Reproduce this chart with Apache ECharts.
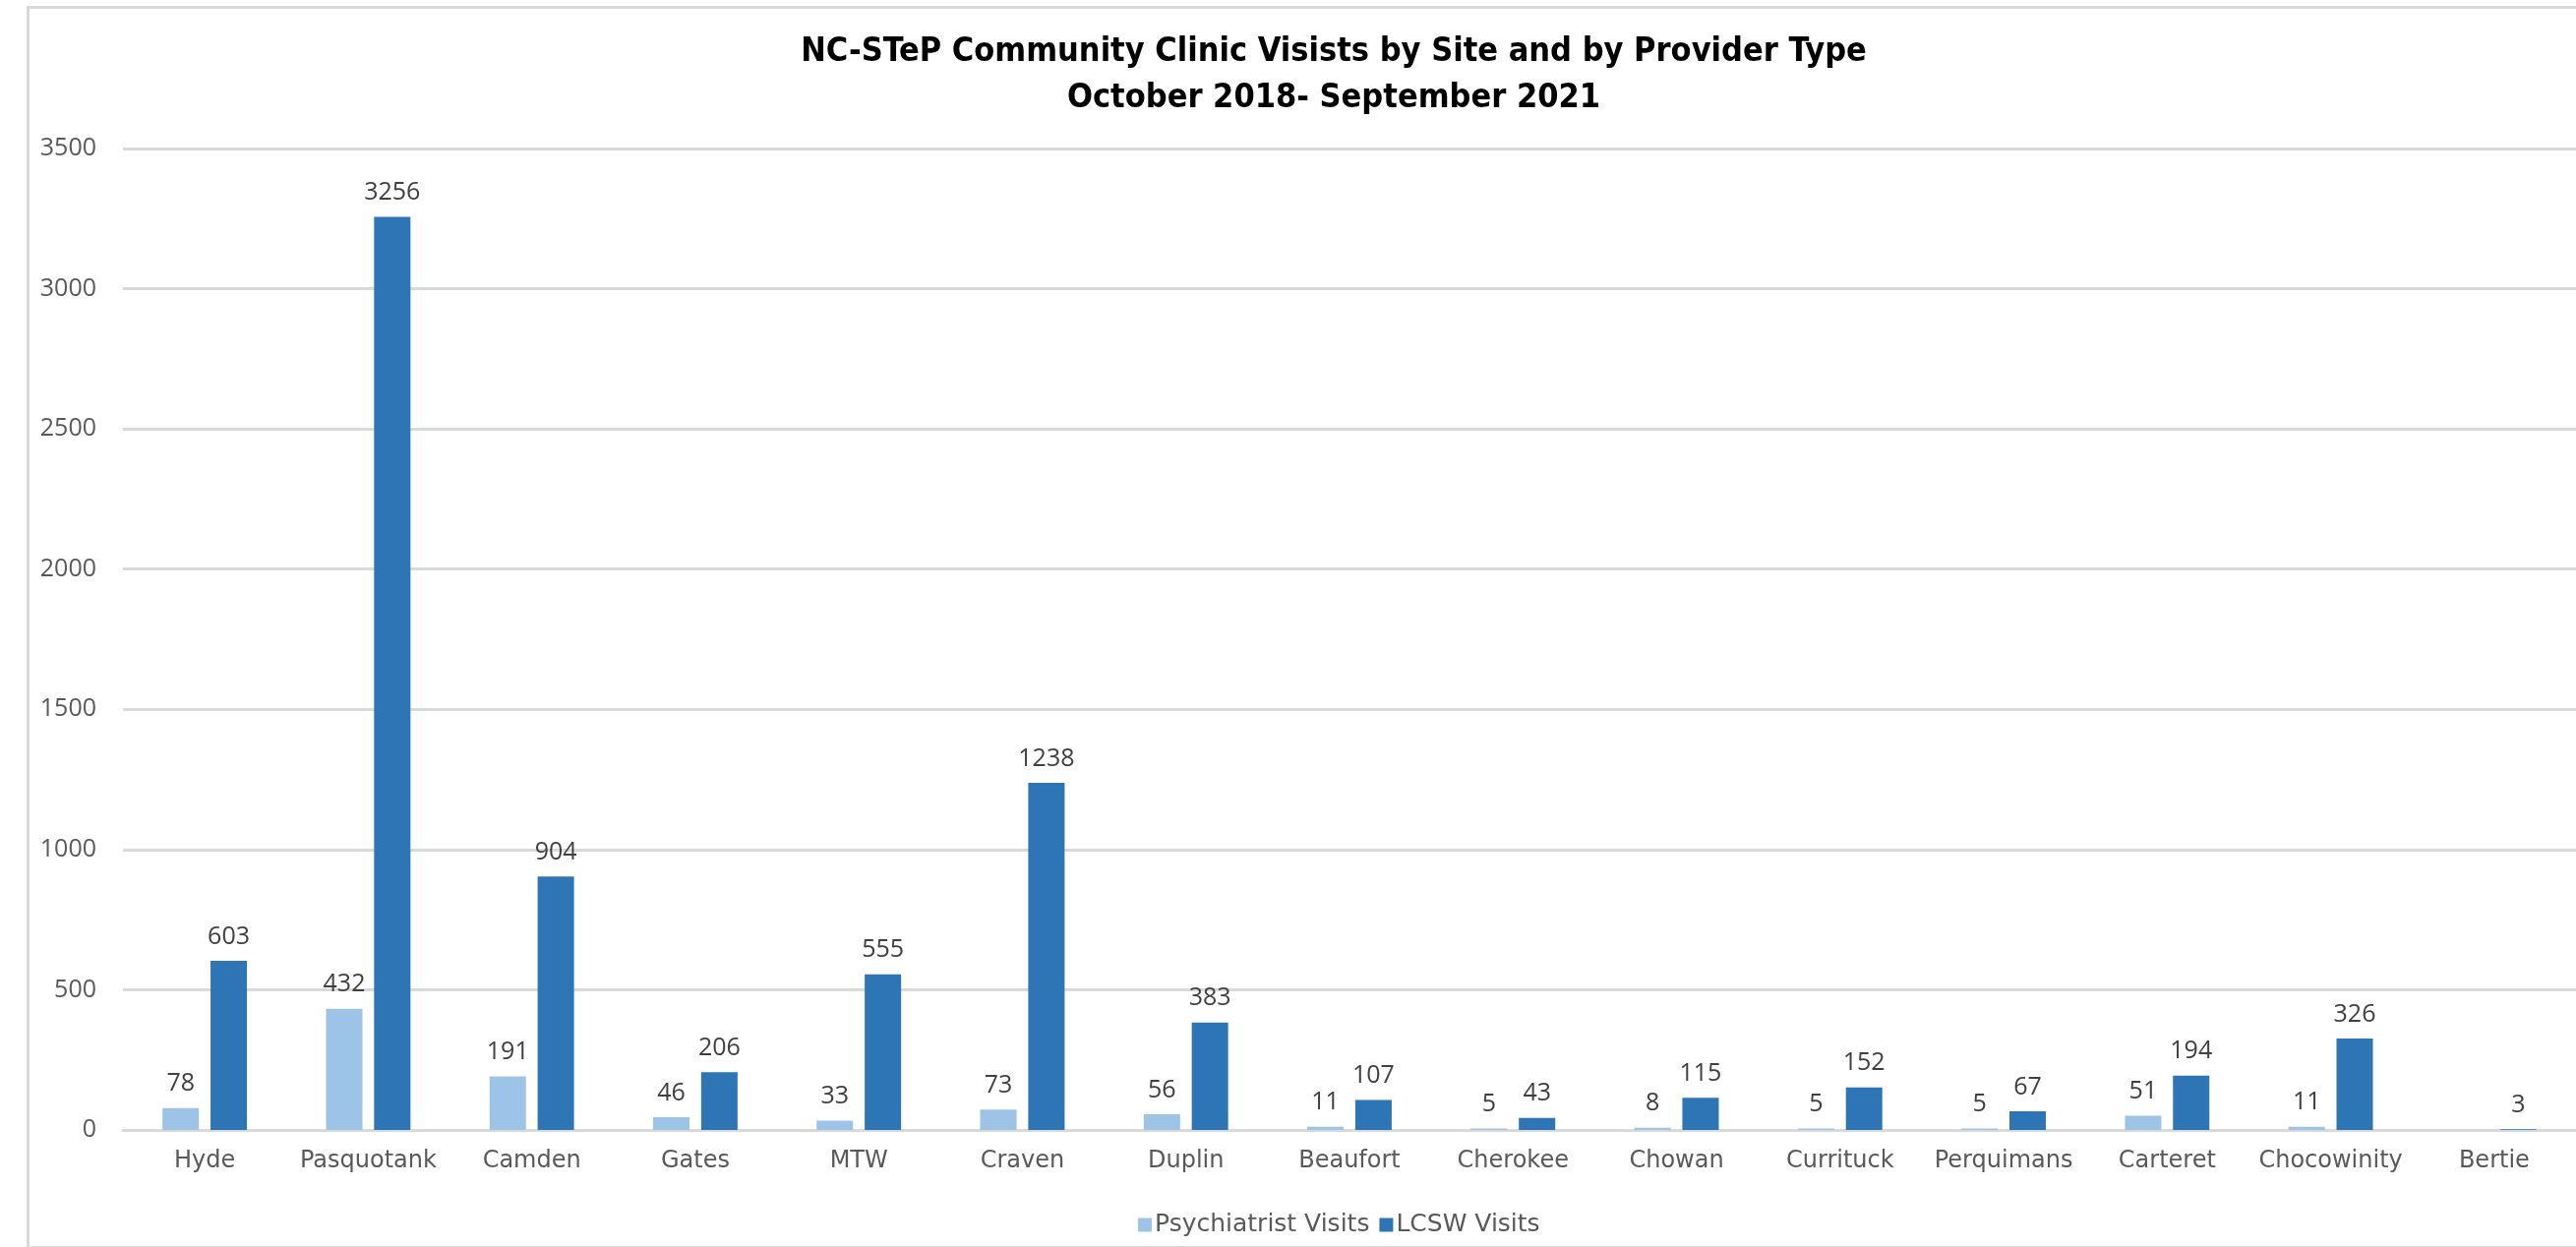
<!DOCTYPE html>
<html>
<head>
<meta charset="utf-8">
<script src="https://cdn.jsdelivr.net/npm/echarts@6/dist/echarts.min.js"></script>
<style>
html,body{margin:0;padding:0;background:#fff;}
#chart{width:2619px;height:1268px;}
</style>
</head>
<body>
<div id="chart"></div>
<script>
const categories = ['Hyde','Pasquotank','Camden','Gates','MTW','Craven','Duplin','Beaufort','Cherokee','Chowan','Currituck','Perquimans','Carteret','Chocowinity','Bertie'];
const psychiatristVisits = [78, 432, 191, 46, 33, 73, 56, 11, 5, 8, 5, 5, 51, 11, null];
const lcswVisits = [603, 3256, 904, 206, 555, 1238, 383, 107, 43, 115, 152, 67, 194, 326, 3];
const seriesNames = ['Psychiatrist Visits', 'LCSW Visits'];
const titleLines = ['NC-STeP Community Clinic Visists by Site and by Provider Type', 'October 2018- September 2021'];

const chart = echarts.init(document.getElementById('chart'), null, {renderer: 'canvas'});
const labelStyle = {show: true, position: 'top', distance: 12, color: '#404040', fontSize: 25, fontFamily: 'Open Sans, DejaVu Sans, sans-serif'};
chart.setOption({
  backgroundColor: '#ffffff',
  animation: false,
  graphic: [{
    type: 'rect', left: 26, top: 5, silent: true,
    shape: {width: 2700, height: 1261},
    style: {fill: 'none', stroke: '#d9d9d9', lineWidth: 3}
  }],
  title: {
    text: titleLines.join('\n'),
    left: 1351, textAlign: 'center', top: 25,
    textStyle: {fontSize: 34, fontWeight: 'bold', color: '#000', lineHeight: 47, fontFamily: 'Liberation Sans Narrow, DejaVu Sans Condensed, sans-serif'}
  },
  legend: {
    data: seriesNames,
    left: 1152, top: 1228,
    itemWidth: 14, itemHeight: 14, itemGap: 10,
    icon: 'rect',
    textStyle: {fontSize: 25, color: '#595959', fontFamily: 'DejaVu Sans, sans-serif', padding: [0,0,0,-2]}
  },
  grid: {left: 125, right: -15, top: 151, bottom: 1268 - 1149, containLabel: false},
  xAxis: {
    type: 'category', data: categories,
    axisLine: {lineStyle: {color: '#d9d9d9', width: 3}},
    axisTick: {show: false},
    axisLabel: {interval: 0, color: '#595959', fontSize: 24, margin: 20, fontFamily: 'DejaVu Sans, sans-serif'}
  },
  yAxis: {
    type: 'value', min: 0, max: 3500, interval: 500,
    axisLine: {show: false}, axisTick: {show: false},
    splitLine: {lineStyle: {color: '#d9d9d9', width: 3}},
    axisLabel: {color: '#595959', fontSize: 25, margin: 27, formatter: v => String(v), fontFamily: 'Open Sans, DejaVu Sans, sans-serif'}
  },
  series: [
    {name: seriesNames[0], type: 'bar', data: psychiatristVisits, barWidth: 37, barGap: '32%',
     itemStyle: {color: '#9dc3e6'}, label: labelStyle},
    {name: seriesNames[1], type: 'bar', data: lcswVisits, barWidth: 37,
     itemStyle: {color: '#2e75b6'}, label: labelStyle}
  ]
});
</script>
</body>
</html>
